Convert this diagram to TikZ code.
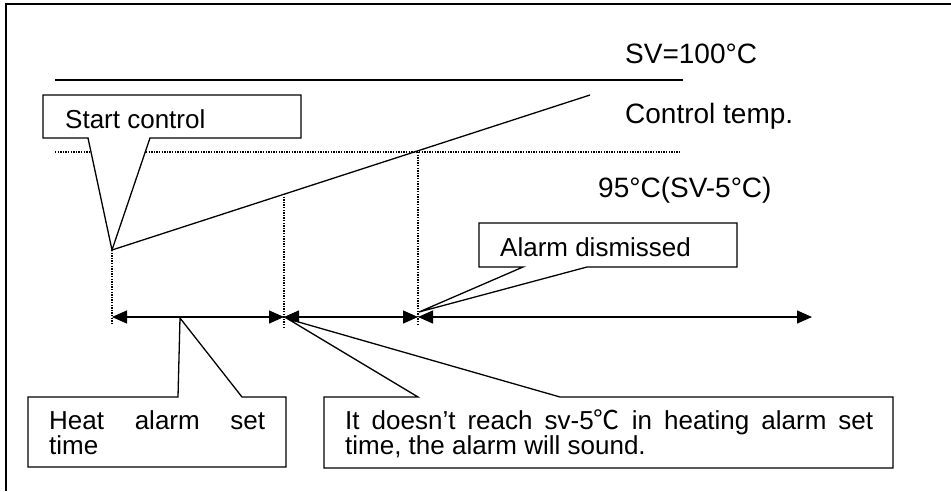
\documentclass[tikz,border=0pt]{standalone}
\usepackage{fontspec}
\setmainfont{Liberation Sans}
\newfontfamily\cjk{Noto Sans CJK SC}
\usetikzlibrary{arrows.meta}
\begin{document}
\begin{tikzpicture}[x=1pt,y=-1pt,
  lbl/.style={anchor=base west,inner sep=0pt,font=\fontsize{26}{30}\selectfont},
  biglbl/.style={anchor=base west,inner sep=0pt,font=\fontsize{28}{32}\selectfont},
  solidline/.style={line width=1.3pt},
  dotline/.style={line width=1.1pt,dash pattern=on 1.3pt off 1.3pt},
  callout/.style={line width=1.3pt,fill=white,line join=miter},
  span/.style={line width=1.3pt,{Triangle[length=15pt,width=13pt]}-{Triangle[length=15pt,width=13pt]}},
  frame/.style={line width=2pt}
]
\useasboundingbox (0,0) rectangle (951,491);
\draw[frame] (951,3.5) -- (5.5,3.5) -- (5.5,491);

% key points
\coordinate (svL) at (55,80);   \coordinate (svR) at (683,80);
\coordinate (lowL) at (55,152); \coordinate (lowR) at (680,152);
\coordinate (start) at (112,250);
\coordinate (ctEnd) at (590,95);
\coordinate (p1top) at (284,194); \coordinate (p2top) at (418,152);
\coordinate (a0) at (112,317); \coordinate (a1) at (284,317);
\coordinate (a2) at (418,317); \coordinate (a3) at (812,317);
\coordinate (d0) at (112,323); \coordinate (d1) at (284,327); \coordinate (d2) at (418,324);

% reference lines
\draw[solidline] (svL) -- (svR);
\draw[dotline] (lowL) -- (lowR);
\draw[dotline] (start) -- (d0);
\draw[dotline] (p1top) -- (d1);
\draw[dotline] (p2top) -- (d2);

% time spans
\draw[span] (a0) -- (a1);
\draw[span] (a1) -- (a2);
\draw[span] (a2) -- (a3);

% callout: Start control
\draw[callout] (43,95) -- (301,95) -- (301,138) -- (150,138) -- (start) -- (88,138) -- (43,138) -- cycle;
% control temperature ramp
\draw[solidline] (start) -- (ctEnd);

% callout: Alarm dismissed
\draw[callout] (479,223) -- (737,223) -- (737,267) -- (587,267) -- (419,312) -- (523,267) -- (479,267) -- cycle;
% callout: Heat alarm set time
\draw[callout] (28,397) -- (178,397) -- (180,318) -- (242,397) -- (286,397) -- (286,467) -- (28,467) -- cycle;
% callout: alarm will sound
\draw[callout] (324,397) -- (418,397) -- (288,319) -- (560,397) -- (893,397) -- (893,468) -- (324,468) -- cycle;

% labels
\node[biglbl] (sv) at (625,63) {SV=100°C};
\node[biglbl] (ct) at (625,123) {Control temp.};
\node[biglbl] (low) at (598,197) {95°C(SV-5°C)};
\node[lbl] (st) at (65,128) {Start control};
\node[lbl] (ad) at (500,256) {Alarm dismissed};
\node[lbl] (h1) at (49,429) {\makebox[216pt][s]{Heat alarm set}};
\node[lbl] (h2) at (49,454) {time};
\node[lbl] (s1) at (345,429) {\makebox[528pt][s]{It doesn’t reach sv-5{\cjk ℃} in heating alarm set}};
\node[lbl] (s2) at (345,454) {time, the alarm will sound.};
\end{tikzpicture}
\end{document}
